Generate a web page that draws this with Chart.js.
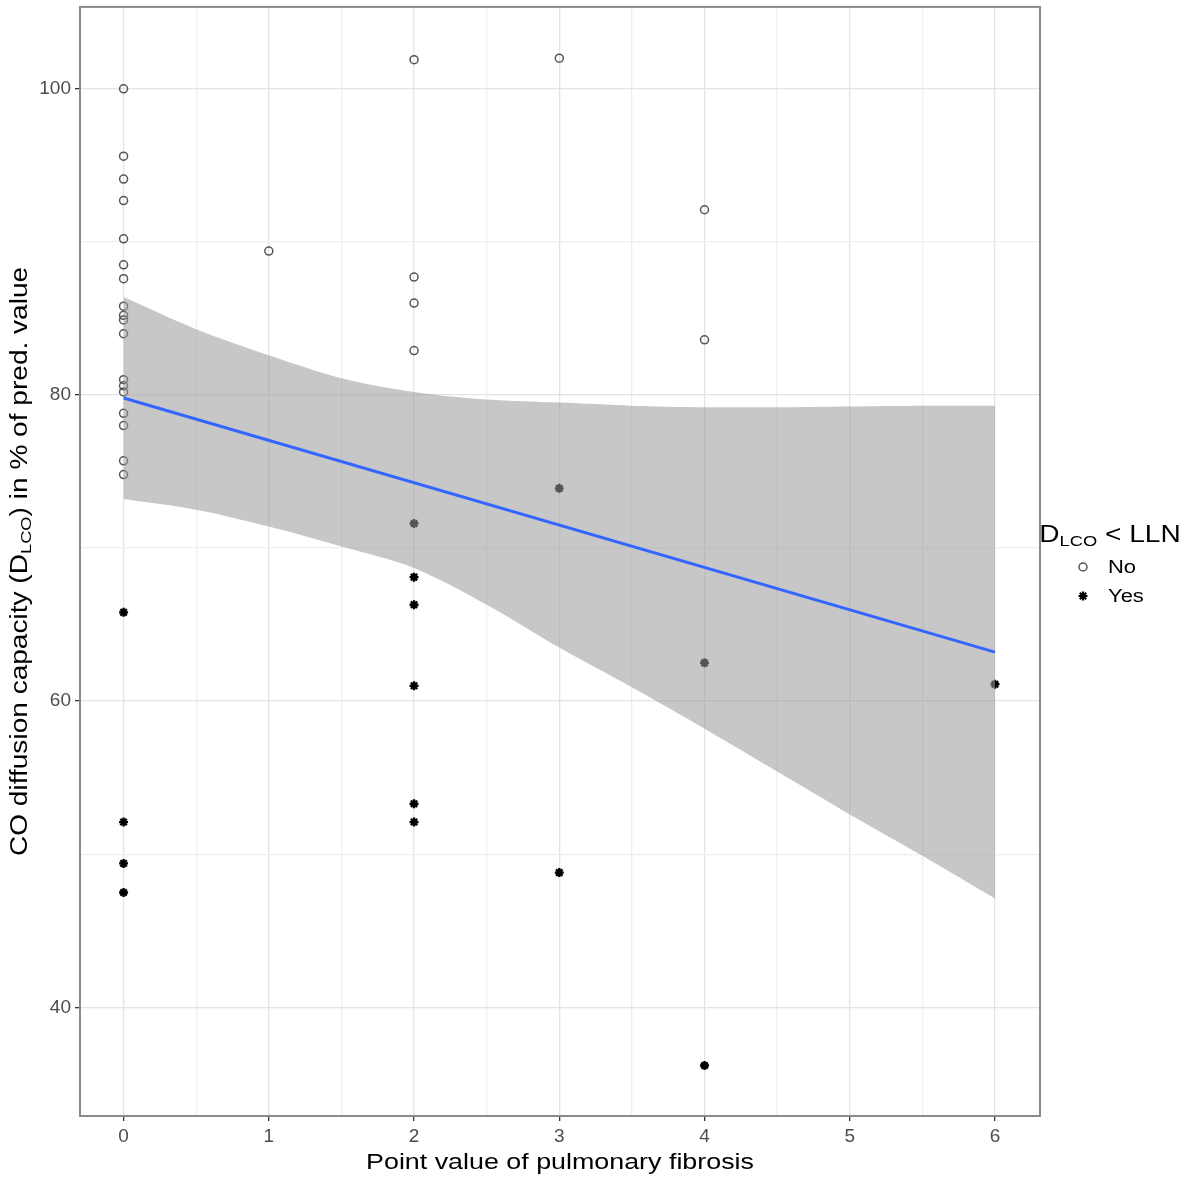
<!DOCTYPE html>
<html lang="en">
<head>
  <meta charset="UTF-8" />
  <title>DLCO vs point value of pulmonary fibrosis</title>
  <script src="https://cdn.jsdelivr.net/npm/chart.js"></script>
  <style>
    html, body { margin: 0; padding: 0; background: #fff; }
    #wrap { width: 1181px; height: 1181px; }
  </style>
</head>
<body>
  <div id="wrap"><canvas id="chart" width="1181" height="1181"></canvas></div>

  <script>
    // DLCO >= LLN ("No") points
    const noX = [0, 0, 0, 0, 0, 0, 0, 0, 0, 0, 0, 0, 0, 0, 0, 0, 0, 0, 1, 2, 2, 2, 2, 3, 4, 4];
    const noY = [100, 95.6, 94.1, 92.7, 90.2, 88.5, 87.6, 85.8, 85.2, 84.9, 84.0, 81.0, 80.6, 80.2, 78.8, 78.0, 75.7, 74.8,
                 89.4, 101.9, 87.7, 86.0, 82.9, 102.0, 92.1, 83.6];

    // DLCO < LLN ("Yes") points
    const yesX = [0, 0, 0, 0, 2, 2, 2, 2, 2, 2, 3, 3, 4, 4, 6];
    const yesY = [65.8, 52.1, 49.4, 47.5, 71.6, 68.1, 66.3, 61.0, 53.3, 52.1, 73.9, 48.8, 62.5, 36.2, 61.1];

    // linear fit and its confidence band
    const fitX = [0, 6];
    const fitY = [79.8, 63.2];
    const bandX = [0, 0.5, 1, 1.5, 2, 2.5, 3, 3.5, 4, 4.5, 5, 5.5, 6];
    const bandUpper = [86.4, 84.3, 82.6, 81.1, 80.2, 79.7, 79.5, 79.3, 79.2, 79.2, 79.25, 79.3, 79.3];
    const bandLower = [73.2, 72.5, 71.4, 70.1, 68.7, 66.3, 63.5, 60.9, 58.2, 55.4, 52.6, 49.9, 47.1];

    const legendTitle = ["D", "LCO", " < LLN"];
    const legendLabels = ["No", "Yes"];
    const xTitle = "Point value of pulmonary fibrosis";
    const yTitle = ["CO diffusion capacity (D", "LCO", ") in % of pred. value"];

    const pts = (xs, ys) => xs.map((x, i) => ({ x: x, y: ys[i] }));

    const FONT = "'Liberation Sans', Arial, sans-serif";
    const STRETCH = 1.22;

    // draws [normal, subscript, normal] text, centered on 0,0 of current transform
    function drawSubText(ctx, parts, size, color) {
      const subSize = Math.round(size * 0.65);
      ctx.font = size + "px " + FONT;
      const w0 = ctx.measureText(parts[0]).width;
      const w2 = ctx.measureText(parts[2]).width;
      ctx.font = subSize + "px " + FONT;
      const w1 = ctx.measureText(parts[1]).width;
      const total = w0 + w1 + w2;
      let x = -total / 2;
      ctx.fillStyle = color;
      ctx.textBaseline = "alphabetic";
      ctx.textAlign = "left";
      const base = size * 0.36;
      ctx.font = size + "px " + FONT;
      ctx.fillText(parts[0], x, base);
      x += w0;
      ctx.font = subSize + "px " + FONT;
      ctx.fillText(parts[1], x, base + size * 0.18);
      x += w1;
      ctx.font = size + "px " + FONT;
      ctx.fillText(parts[2], x, base);
    }

    const decorations = {
      id: "decorations",
      afterDraw(chart) {
        const ctx = chart.ctx;
        const a = chart.chartArea;
        ctx.save();

        // panel border
        ctx.strokeStyle = "#8a8a8a";
        ctx.lineWidth = 2;
        ctx.strokeRect(a.left, a.top, a.right - a.left, a.bottom - a.top);

        // x axis title
        ctx.save();
        ctx.translate((a.left + a.right) / 2, 1163);
        ctx.scale(STRETCH, 1);
        ctx.font = "22px " + FONT;
        ctx.fillStyle = "#000";
        ctx.textAlign = "center";
        ctx.textBaseline = "middle";
        ctx.fillText(xTitle, 0, 0);
        ctx.restore();

        // y axis title
        ctx.save();
        ctx.translate(19, (a.top + a.bottom) / 2);
        ctx.rotate(-Math.PI / 2);
        ctx.scale(STRETCH, 1);
        drawSubText(ctx, yTitle, 23, "#000");
        ctx.restore();

        // legend
        ctx.save();
        ctx.translate(1110, 534);
        ctx.scale(STRETCH, 1);
        drawSubText(ctx, legendTitle, 23, "#000");
        ctx.restore();

        ctx.strokeStyle = "#555";
        ctx.lineWidth = 1.5;
        ctx.beginPath();
        ctx.arc(1083, 567, 4, 0, Math.PI * 2);
        ctx.stroke();

        ctx.strokeStyle = "#000";
        ctx.fillStyle = "#000";
        ctx.lineWidth = 2.2;
        Chart.helpers.drawPoint(ctx, { pointStyle: "star", radius: 4.5, rotation: 0, borderWidth: 2.2 }, 1083, 596);

        legendLabels.forEach((lbl, i) => {
          ctx.save();
          ctx.translate(1108, 568 + i * 29);
          ctx.scale(STRETCH, 1);
          ctx.font = "18px " + FONT;
          ctx.fillStyle = "#000";
          ctx.textAlign = "left";
          ctx.textBaseline = "middle";
          ctx.fillText(lbl, 0, 0);
          ctx.restore();
        });

        ctx.restore();
      }
    };

    const isInt = v => Math.abs(v - Math.round(v)) < 1e-9;

    new Chart(document.getElementById("chart"), {
      type: "scatter",
      data: {
        datasets: [
          {
            type: "line",
            label: "fit",
            data: pts(fitX, fitY),
            borderColor: "#3366FF",
            borderWidth: 3,
            pointRadius: 0,
            fill: false,
            order: 0
          },
          {
            type: "line",
            label: "upper",
            data: pts(bandX, bandUpper),
            borderWidth: 0,
            borderColor: "rgba(0,0,0,0)",
            pointRadius: 0,
            tension: 0.3,
            fill: "+1",
            backgroundColor: "rgba(153,153,153,0.55)",
            order: 1
          },
          {
            type: "line",
            label: "lower",
            data: pts(bandX, bandLower),
            borderWidth: 0,
            borderColor: "rgba(0,0,0,0)",
            pointRadius: 0,
            tension: 0.3,
            fill: false,
            order: 2
          },
          {
            label: "No",
            data: pts(noX, noY),
            pointStyle: "circle",
            pointRadius: 4,
            backgroundColor: "rgba(0,0,0,0)",
            borderColor: "#555",
            borderWidth: 1.5,
            order: 3
          },
          {
            label: "Yes",
            data: pts(yesX, yesY),
            pointStyle: "star",
            pointRadius: 4.5,
            backgroundColor: "#000",
            borderColor: "#000",
            borderWidth: 2.4,
            order: 4
          }
        ]
      },
      options: {
        responsive: false,
        animation: false,
        events: [],
        layout: { padding: { left: 0, right: 141, top: 5, bottom: 0 } },
        plugins: {
          legend: { display: false },
          tooltip: { enabled: false }
        },
        scales: {
          x: {
            type: "linear",
            min: -0.3,
            max: 6.31,
            afterFit: s => { s.height = 65; s.paddingLeft = 0; s.paddingRight = 0; },
            border: { display: false },
            grid: {
              color: c => isInt(c.tick.value) ? "#e4e4e4" : "#efefef",
              lineWidth: 1.3,
              tickColor: c => isInt(c.tick.value) ? "#333" : "rgba(0,0,0,0)",
              tickLength: 5
            },
            ticks: {
              stepSize: 0.5,
              includeBounds: false,
              autoSkip: false,
              maxRotation: 0,
              padding: 4,
              color: "#4d4d4d",
              font: { family: FONT, size: 19 },
              callback: v => isInt(v) ? String(Math.round(v)) : ""
            }
          },
          y: {
            type: "linear",
            min: 32.9,
            max: 105.35,
            afterFit: s => { s.width = 80; s.paddingTop = 0; s.paddingBottom = 0; },
            border: { display: false },
            grid: {
              color: c => c.tick.value % 20 === 0 ? "#e4e4e4" : "#efefef",
              lineWidth: 1.3,
              tickColor: c => c.tick.value % 20 === 0 ? "#333" : "rgba(0,0,0,0)",
              tickLength: 5
            },
            ticks: {
              stepSize: 10,
              includeBounds: false,
              autoSkip: false,
              padding: 4,
              color: "#4d4d4d",
              font: { family: FONT, size: 19 },
              callback: v => v % 20 === 0 ? String(v) : ""
            }
          }
        }
      },
      plugins: [decorations]
    });
  </script>
</body>
</html>
